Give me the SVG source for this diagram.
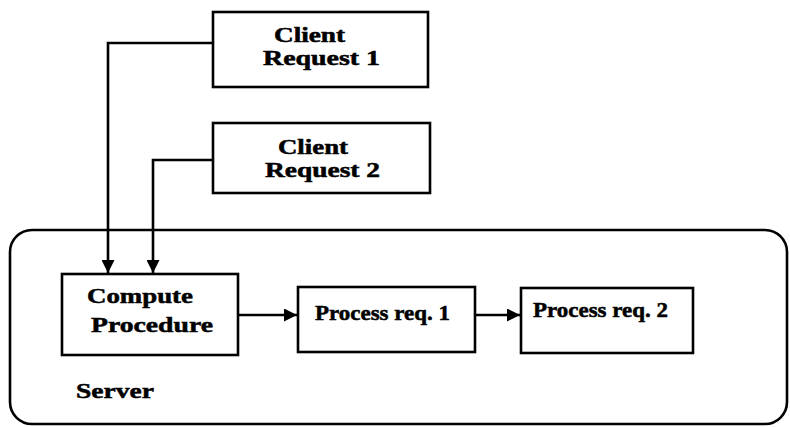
<svg xmlns="http://www.w3.org/2000/svg" width="790" height="427" viewBox="0 0 790 427">
  <style>
    .box { fill: #ffffff; stroke: #000000; stroke-width: 2.6; }
    .frame { fill: none; stroke: #000000; stroke-width: 2.6; }
    .wire { fill: none; stroke: #000000; stroke-width: 2.6; }
    .lbl { font-family: "Liberation Serif", "Times New Roman", serif; font-weight: bold; font-size: 21px; fill: #000000; stroke: #000000; stroke-width: 0.5; }
    .cl { font-size: 20px; }
  </style>
  <defs>
    <marker id="arrow" viewBox="0 0 10 10" refX="10" refY="5" markerWidth="5" markerHeight="5" orient="auto" markerUnits="strokeWidth">
      <path d="M0,0 L10,5 L0,10 Z" fill="#000000"/>
    </marker>
  </defs>

  <!-- server boundary -->
  <g id="server">
    <rect class="frame" x="10" y="230" width="777" height="194" rx="22" ry="22"/>
    <text class="lbl" x="76" y="398" textLength="78" lengthAdjust="spacingAndGlyphs">Server</text>
  </g>

  <!-- connectors -->
  <g id="connectors">
    <polyline class="wire" points="213,43 108,43 108,273" marker-end="url(#arrow)"/>
    <polyline class="wire" points="213,160 153,160 153,273" marker-end="url(#arrow)"/>
    <line class="wire" x1="238" y1="315" x2="297" y2="315" marker-end="url(#arrow)"/>
    <line class="wire" x1="475" y1="315" x2="520" y2="315" marker-end="url(#arrow)"/>
  </g>

  <g id="client1">
    <rect class="box" x="213" y="12" width="215" height="75"/>
    <text class="lbl cl" x="274" y="42" textLength="71" lengthAdjust="spacingAndGlyphs">Client</text>
    <text class="lbl cl" x="263" y="65" textLength="117" lengthAdjust="spacingAndGlyphs">Request 1</text>
  </g>

  <g id="client2">
    <rect class="box" x="213" y="123" width="217" height="70"/>
    <text class="lbl cl" x="278" y="154" textLength="70" lengthAdjust="spacingAndGlyphs">Client</text>
    <text class="lbl cl" x="265" y="177" textLength="115" lengthAdjust="spacingAndGlyphs">Request 2</text>
  </g>

  <g id="compute">
    <rect class="box" x="62" y="274" width="176" height="81"/>
    <text class="lbl" x="87" y="303" textLength="106" lengthAdjust="spacingAndGlyphs">Compute</text>
    <text class="lbl" x="91" y="332" textLength="122" lengthAdjust="spacingAndGlyphs">Procedure</text>
  </g>

  <g id="process1">
    <rect class="box" x="298" y="287" width="177" height="65"/>
    <text class="lbl" x="315" y="320" textLength="135" lengthAdjust="spacingAndGlyphs">Process req. 1</text>
  </g>

  <g id="process2">
    <rect class="box" x="521" y="288" width="172" height="65"/>
    <text class="lbl" x="533" y="317" textLength="135" lengthAdjust="spacingAndGlyphs">Process req. 2</text>
  </g>
</svg>
